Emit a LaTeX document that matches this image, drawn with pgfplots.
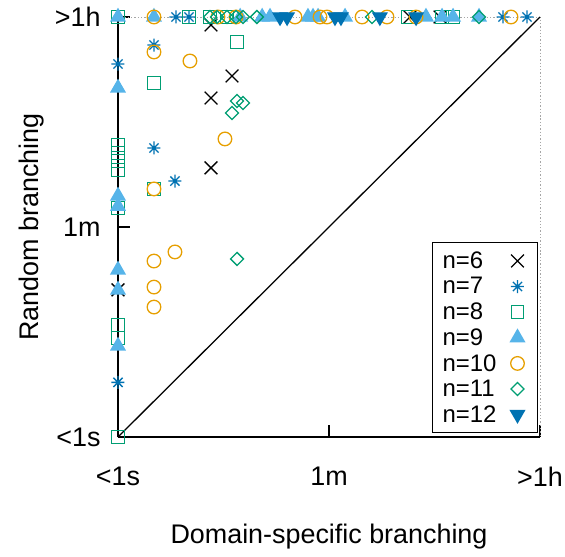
\documentclass[border=0pt]{standalone}
\usepackage{pgfplots}
\pgfplotsset{compat=1.18}
\usepackage{fontspec}
\setmainfont{Liberation Sans}
\definecolor{cblue}{HTML}{0072B2}
\definecolor{cgreen}{HTML}{009E73}
\definecolor{csky}{HTML}{56B4E9}
\definecolor{corange}{HTML}{E69F00}
\pgfdeclareplotmark{gpstar}{%
  \pgfpathmoveto{\pgfqpoint{-\pgfplotmarksize}{0pt}}\pgfpathlineto{\pgfqpoint{\pgfplotmarksize}{0pt}}%
  \pgfpathmoveto{\pgfqpoint{0pt}{-\pgfplotmarksize}}\pgfpathlineto{\pgfqpoint{0pt}{\pgfplotmarksize}}%
  \pgfpathmoveto{\pgfqpoint{-.7071\pgfplotmarksize}{-.7071\pgfplotmarksize}}\pgfpathlineto{\pgfqpoint{.7071\pgfplotmarksize}{.7071\pgfplotmarksize}}%
  \pgfpathmoveto{\pgfqpoint{-.7071\pgfplotmarksize}{.7071\pgfplotmarksize}}\pgfpathlineto{\pgfqpoint{.7071\pgfplotmarksize}{-.7071\pgfplotmarksize}}%
  \pgfusepathqstroke}
\begin{document}
\begin{tikzpicture}[font=\fontsize{27}{31}\selectfont]
\path[use as bounding box] (-118bp,-120bp) rectangle (447bp,437bp);
\begin{axis}[
  at={(0,0)}, anchor=south west,
  scale only axis, width=422bp, height=420bp,
  xmode=log, ymode=log,
  xmin=1, xmax=3600, ymin=1, ymax=3600,
  axis x line*=bottom, axis y line*=left,
  axis line style={line width=1.2bp, -},
  xtick={1,60,3600}, ytick={1,60,3600},
  xticklabels={<1s,1m,>1h}, yticklabels={<1s,1m,>1h},
  minor tick num=0,
  tick style={black, line width=1.2bp},
  major tick length=12bp,
  tick align=inside,
  xticklabel style={anchor=north, yshift=-26bp},
  yticklabel style={anchor=east, xshift=-14bp},
  xlabel={Domain-specific branching}, ylabel={Random branching},
  xlabel style={at={(axis description cs:0.5,-0.238)}, anchor=center},
  ylabel style={at={(axis description cs:-0.205,0.5)}, anchor=center},
  clip=false,
  legend plot pos=right,
  legend cell align=left,
  legend style={font=\fontsize{24}{28}\selectfont, draw=black, line width=0.8bp,
    at={(axis description cs:0.995,0.0095)}, anchor=south east,
    row sep=3.5bp, inner xsep=8bp, inner ysep=7bp},
  legend image code/.code={\path[draw=none,fill=none] (0bp,0bp) -- (31bp,0bp); \draw[#1] plot coordinates {(19bp,0bp)};},
  every axis plot/.append style={line width=1.3bp},
]
\addplot[gray!70, dotted, line width=0.8bp, forget plot] coordinates {(1,3600) (3600,3600) (3600,1)};
\addplot[black, line width=1.3bp, forget plot] coordinates {(1,1) (3600,3600)};
% n=6
\addplot[only marks, black, mark=x, mark size=9bp] coordinates {
(1,17.6) (6.08,190) (6.08,742) (9.14,1140) (6.08,3080) (289,3600) (517,3600)};
% n=7
\addplot[only marks, cblue, mark=gpstar, mark size=6.5bp] coordinates {
(1,1439) (1,2.9) (2.01,2085) (2.01,280) (3.02,147) (3.08,3600) (3.97,3600) (1757,3600) (2798,3600)};
% n=8
\addplot[only marks, cgreen, mark=square, mark size=6.3bp] coordinates {
(1,3600) (1,297) (1,254) (1,217) (1,182) (1,87) (1,8.9) (1,6.9) (1,1)
(2.01,994) (2.01,126) (10.07,2212)
(3.97,3600) (5.96,3600) (8.29,3600) (278,3600) (538,3600) (666,3600)};
% n=9
\addplot[only marks, csky, mark=triangle*, mark size=8bp, mark options={draw=csky, fill=csky}] coordinates {
(1,3600) (1,902) (1,110) (1,90) (1,26) (1,17.6) (1,5.9)
(2.01,3600) (10.7,3600) (16.4,3600) (19.1,3600) (39.9,3600) (44,3600) (48.5,3600)
(81.9,3600) (394,3600) (538,3600) (666,3600) (1102,3600)};
% n=10
\addplot[only marks, corange, mark=o, mark size=6.8bp] coordinates {
(2.01,1820) (4.04,1527) (2.01,126) (7.97,334) (2.01,30.9) (3.02,36.9) (2.01,18.6) (2.01,12.6)
(2.01,3600) (6.96,3600) (9.87,3600) (31,3600) (50.4,3600) (57.7,3600) (114,3600) (185,3600) (325,3600) (2051,3600)};
% n=11
\addplot[only marks, cgreen, mark=square, mark size=4.6bp, mark options={rotate=45}] coordinates {
(9.14,554) (10.07,700) (11.3,673) (10.07,32.2)
(5.96,3600) (6.83,3600) (8.29,3600) (9.87,3600) (11.3,3600) (14.8,3600) (138,3600) (1102,3600)};
% n=12
\addplot[only marks, cblue, mark=triangle*, mark size=8bp, mark options={rotate=180, draw=cblue, fill=cblue}] coordinates {
(23.2,3600) (26.6,3600) (67.4,3600) (75.7,3600) (161,3600) (325,3600)};
\legend{n=6,n=7,n=8,n=9,n=10,n=11,n=12}
\end{axis}
\end{tikzpicture}
\end{document}
